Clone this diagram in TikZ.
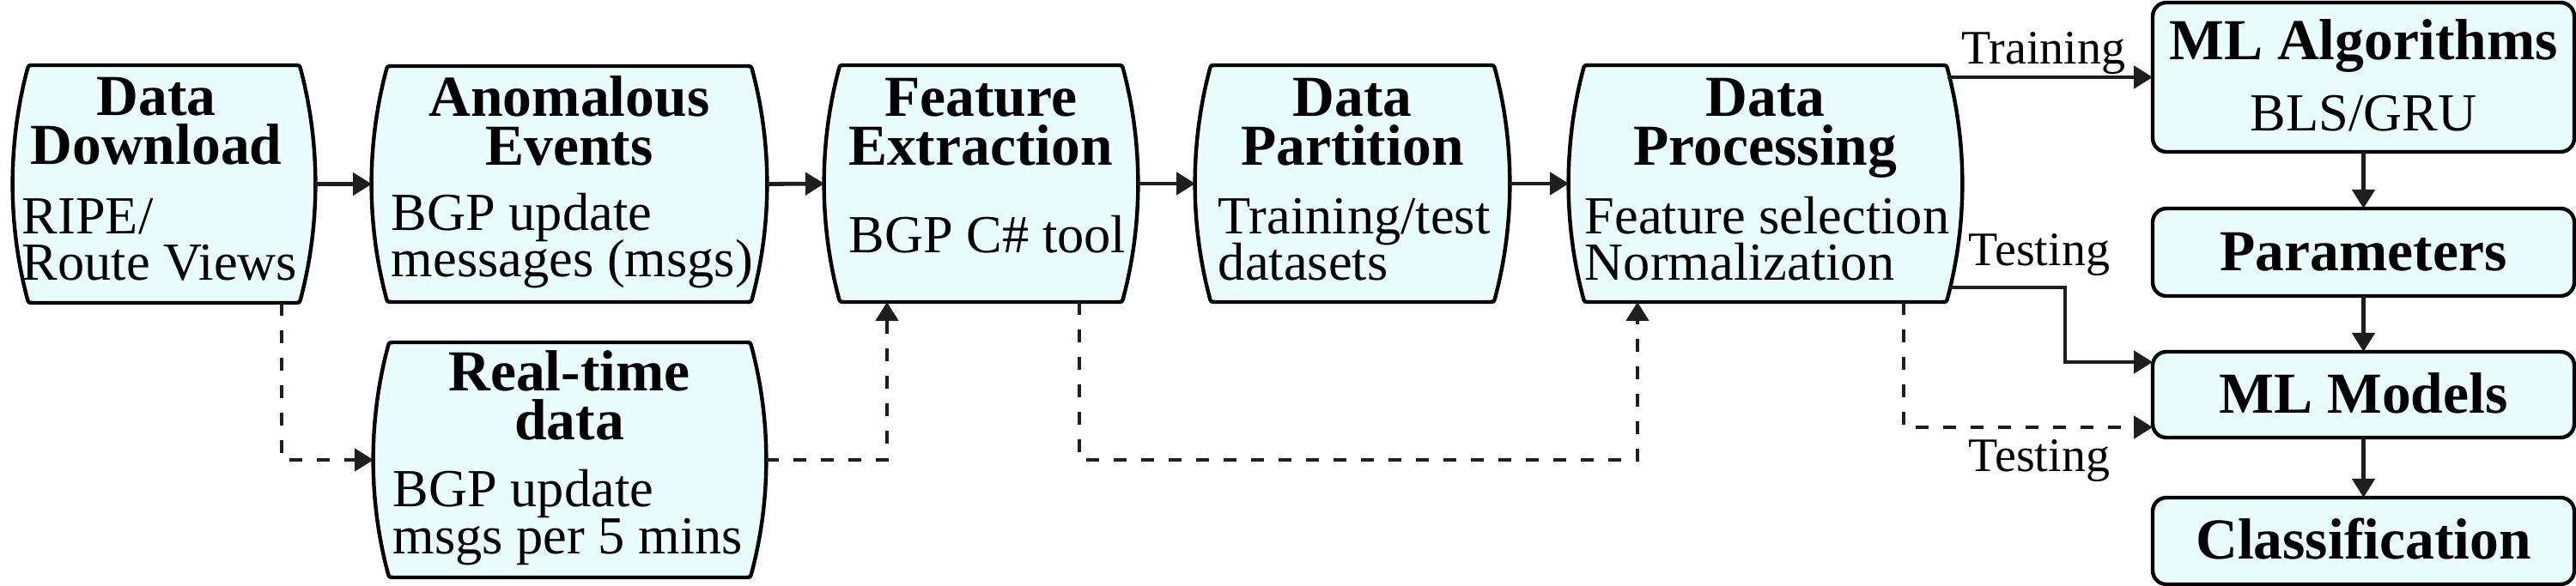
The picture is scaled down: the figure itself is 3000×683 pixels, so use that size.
\documentclass[tikz,border=0pt]{standalone}
\usepackage{fontspec}
\setmainfont{Liberation Serif}
\usetikzlibrary{arrows.meta}
\definecolor{boxfill}{RGB}{233,253,253}
\definecolor{linecol}{RGB}{30,30,30}
\newcommand{\tightlines}{\lineskiplimit=-20pt\relax}
\newcommand{\pbox}[5]{%
  \path[draw=black, fill=boxfill, line width=1.1pt, line join=round]
    ({#2+24},#3) -- ({#4-24},#3)
    .. controls ({#4-18},#3) .. ({#4-16.5},{#3+6})
    .. controls ({#4+6},{#3+(#5-#3)/3}) and ({#4+6},{#5-(#5-#3)/3}) .. ({#4-16.5},{#5-6})
    .. controls ({#4-18},#5) .. ({#4-24},#5)
    -- ({#2+24},#5)
    .. controls ({#2+18},#5) .. ({#2+16.5},{#5-6})
    .. controls ({#2-6},{#5-(#5-#3)/3}) and ({#2-6},{#3+(#5-#3)/3}) .. ({#2+16.5},{#3+6})
    .. controls ({#2+18},#3) .. cycle;
  \node[inner sep=0pt, outer sep=0pt, minimum width={(#4-#2)*0.25pt}, minimum height={(#5-#3)*0.25pt}] (#1) at ({(#2+#4)/2},{(#3+#5)/2}) {};
}
\tikzset{
  ttl/.style={font=\tightlines\fontsize{16.9}{14.25}\selectfont\bfseries, inner sep=0pt, anchor=base, align=center},
  bdy/.style={font=\tightlines\fontsize{15.6}{13.5}\selectfont, inner sep=0pt, anchor=base west, align=left},
  bdyc/.style={font=\fontsize{15.6}{13.5}\selectfont, inner sep=0pt, anchor=base},
  lbl/.style={font=\fontsize{14}{16}\selectfont, inner sep=0pt, anchor=base},
  arr/.style={line width=1.2pt, draw=linecol, -{Triangle[length=5.5pt,width=6.5pt]}},
  darr/.style={arr, dash pattern=on 3.75pt off 4.25pt},
  rbox/.style={draw=black, fill=boxfill, line width=1.1pt, rounded corners=4pt, inner sep=0pt, outer sep=0pt, minimum width=122.75pt},
}
\begin{document}
\begin{tikzpicture}[x=0.25pt, y=-0.25pt]
\useasboundingbox (0,0) rectangle (3000,683);
% left boxes
\pbox{dd}{15}{76}{367}{353}
\pbox{ae}{433}{77}{893}{352}
\pbox{fe}{960}{76}{1325}{352}
\pbox{dp}{1392}{76}{1758}{352}
\pbox{proc}{1827}{76}{2285}{352}
\pbox{rt}{435}{399}{892}{673}
% right boxes
\node[rbox, minimum height=43.5pt] (mla) at (2752.5,90) {};
\node[rbox, minimum height=25.5pt] (par) at (2752.5,294) {};
\node[rbox, minimum height=25pt] (mlm) at (2752.5,460) {};
\node[rbox, minimum height=25.25pt] (cls) at (2752.5,630.5) {};
% texts (multi-line nodes: base = last line)
\node[ttl] (ddT) at (182,192) {Data\\Download};
\node[bdy] (ddB) at (25,327) {RIPE/\\Route Views};
\node[ttl] (aeT) at (663,193) {Anomalous\\Events};
\node[bdy] (aeB) at (455,323) {BGP update\\messages (msgs)};
\node[ttl] (feT) at (1142,193) {Feature\\Extraction};
\node[bdy] (feB) at (988,295) {BGP C\# tool};
\node[ttl] (dpT) at (1575,193) {Data\\Partition};
\node[bdy] (dpB) at (1418,327) {Training/test\\datasets};
\node[ttl] (prT) at (2056,193) {Data\\Processing};
\node[bdy] (prB) at (1845,327) {Feature selection\\Normalization};
\node[ttl] (rtT) at (663,513) {Real-time\\data};
\node[bdy] (rtB) at (457,645) {BGP update\\msgs per 5 mins};
\node[ttl] (mlaT) at (2752.5,70) {ML Algorithms};
\node[bdyc] (mlaB) at (2752.5,153) {BLS/GRU};
\node[ttl] (parT) at (2752.5,316) {Parameters};
\node[ttl] (mlmT) at (2752.5,482) {ML Models};
\node[ttl] (clsT) at (2752.5,652) {Classification};
% labels
\node[lbl] (ltr) at (2380,75) {Training};
\node[lbl] (lte1) at (2375,310) {Testing};
\node[lbl] (lte2) at (2375,550) {Testing};
% connector anchors
\coordinate (ddS) at ([xshift=34.25pt]dd.south);
\coordinate (feIn) at ([xshift=-27.375pt]fe.south);
\coordinate (feOut) at ([xshift=28.625pt]fe.south);
\coordinate (prIn) at ([xshift=-37.25pt]proc.south);
\coordinate (prOut) at ([xshift=40.25pt]proc.south);
\coordinate (prTr) at ([xshift=-4.25pt,yshift=-3.5pt]proc.north east);
\coordinate (prTe) at ([xshift=-3.75pt,yshift=4.25pt]proc.south east);
\coordinate (tb) at (2405,335);
% solid arrows
\draw[arr] (dd.east) -- (ae.west);
\draw[arr] (ae.east) -- (fe.west);
\draw[arr] (fe.east) -- (dp.west);
\draw[arr] (dp.east) -- (proc.west);
\draw[arr] (prTr) -- (mla.west);
\draw[arr] (prTe) -- (tb) |- ([yshift=-3pt]mlm.north west);
\draw[arr] (mla.south) -- (par.north);
\draw[arr] (par.south) -- (mlm.north);
\draw[arr] (mlm.south) -- (cls.north);
% dashed arrows
\draw[darr] (ddS) |- (rt.west);
\draw[darr] (rt.east) -| (feIn);
\draw[darr] (feOut) -- (feOut |- rt.east) -| (prIn);
\draw[darr] (prOut) |- ([yshift=3pt]mlm.south west);
\end{tikzpicture}
\end{document}
